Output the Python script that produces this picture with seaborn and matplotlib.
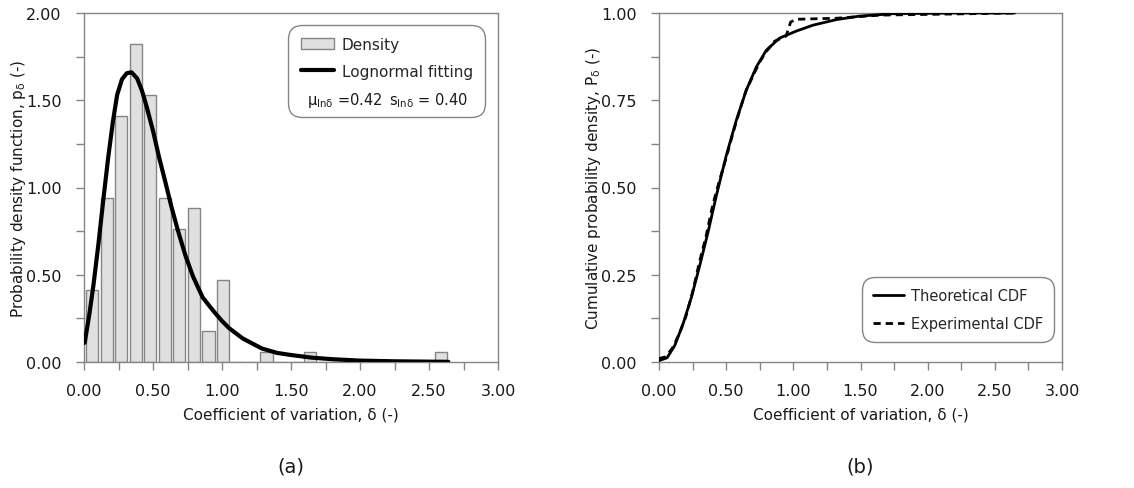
import numpy as np
import pandas as pd
import matplotlib
matplotlib.use("Agg")
import matplotlib.pyplot as plt
import seaborn as sns
from matplotlib.lines import Line2D
from matplotlib.patches import Patch
from matplotlib.ticker import MultipleLocator, FormatStrFormatter

# ---------------- data ----------------
bin_centers = [0.06, 0.16, 0.27, 0.38, 0.48, 0.59, 0.69, 0.80, 0.90, 1.01, 1.32, 1.64, 2.59]
bin_density = [0.41, 0.94, 1.41, 1.82, 1.53, 0.94, 0.76, 0.88, 0.18, 0.47, 0.06, 0.06, 0.06]

pdf_x = [0.005, 0.04, 0.07, 0.105, 0.14, 0.175, 0.21, 0.24, 0.275, 0.31, 0.345, 0.385,
         0.42, 0.455, 0.50, 0.545, 0.59, 0.635, 0.68, 0.735, 0.79, 0.86, 0.94, 1.0,
         1.05, 1.15, 1.29, 1.40, 1.50, 1.65, 1.80, 2.00, 2.25, 2.50, 2.64]
pdf_y = [0.11, 0.28, 0.45, 0.68, 0.93, 1.17, 1.38, 1.53, 1.62, 1.655, 1.66, 1.625,
         1.555, 1.46, 1.325, 1.17, 1.03, 0.885, 0.755, 0.61, 0.49, 0.37, 0.29, 0.235,
         0.195, 0.135, 0.077, 0.052, 0.04, 0.025, 0.016, 0.008, 0.004, 0.002, 0.001]

cdf_theo_x = [0.0, 0.06, 0.117, 0.179, 0.241, 0.303, 0.365, 0.427, 0.501, 0.575, 0.649,
              0.724, 0.798, 0.897, 1.021, 1.145, 1.319, 1.492, 1.74, 2.2, 2.646]
cdf_theo_y = [0.004, 0.012, 0.047, 0.109, 0.185, 0.276, 0.372, 0.477, 0.592, 0.692, 0.778,
              0.845, 0.893, 0.928, 0.948, 0.965, 0.981, 0.991, 0.998, 1.0, 1.0]

cdf_exp_x = [0.0, 0.05, 0.10, 0.15, 0.20, 0.25, 0.30, 0.35, 0.40, 0.45, 0.50, 0.55, 0.60,
             0.65, 0.70, 0.75, 0.80, 0.86, 0.946, 0.98, 1.02, 1.32, 1.65, 2.0, 2.64]
cdf_exp_y = [0.01, 0.015, 0.04, 0.08, 0.13, 0.20, 0.285, 0.36, 0.45, 0.52, 0.585, 0.655, 0.72,
             0.78, 0.82, 0.86, 0.89, 0.919, 0.934, 0.974, 0.982, 0.985, 0.994, 0.996, 1.0]

x_ticks = [0.0, 0.5, 1.0, 1.5, 2.0, 2.5, 3.0]

# ---------------- style ----------------
sns.set_theme(style="white")
plt.rcParams["font.family"] = ["DejaVu Sans"]
GRAY = "#858585"
BAR_FACE = "#e0e0e0"
TXT = "#1a1a1a"

fig = plt.figure(figsize=(11.34, 4.89), dpi=100)
ax1 = fig.add_axes([84 / 1134, 1 - 363 / 489, 414 / 1134, 349 / 489])
ax2 = fig.add_axes([659 / 1134, 1 - 363 / 489, 403 / 1134, 349 / 489])

# ---------------- (a) histogram + lognormal fit ----------------
hist_df = pd.DataFrame({"delta": bin_centers, "density": bin_density})
sns.histplot(data=hist_df, x="delta", weights="density", bins=25, binrange=(0.006, 2.64),
             stat="count", shrink=0.84, color=BAR_FACE, edgecolor=GRAY, linewidth=1.0,
             alpha=1, ax=ax1, zorder=2)
sns.lineplot(x=pdf_x, y=pdf_y, sort=False, estimator=None, color="black", lw=3.0,
             ax=ax1, zorder=3)

# ---------------- (b) CDFs ----------------
sns.lineplot(x=cdf_exp_x, y=cdf_exp_y, sort=False, estimator=None, color="black",
             lw=2.0, linestyle=(0, (2.6, 1.8)), ax=ax2, zorder=3)
sns.lineplot(x=cdf_theo_x, y=cdf_theo_y, sort=False, estimator=None, color="black",
             lw=2.0, ax=ax2, zorder=4)

for ax, ymax, ymaj, ymin in [(ax1, 2.0, 0.5, 0.25), (ax2, 1.0, 0.25, 0.125)]:
    ax.set_xlim(0, 3.0)
    ax.set_ylim(0, ymax)
    ax.set_xticks(x_ticks)
    ax.xaxis.set_minor_locator(MultipleLocator(0.25))
    ax.yaxis.set_major_locator(MultipleLocator(ymaj))
    ax.yaxis.set_minor_locator(MultipleLocator(ymin))
    ax.xaxis.set_major_formatter(FormatStrFormatter("%.2f"))
    ax.yaxis.set_major_formatter(FormatStrFormatter("%.2f"))
    ax.tick_params(which="both", direction="out", length=6, width=1, color=GRAY,
                   labelsize=11.5, labelcolor=TXT, left=True, bottom=True)
    ax.tick_params(axis="x", which="major", pad=9)
    ax.tick_params(axis="y", which="major", pad=10)
    for sp in ax.spines.values():
        sp.set_color(GRAY)
        sp.set_linewidth(1.0)
        sp.set_visible(True)
    ax.set_xlabel("Coefficient of variation, δ (-)", fontsize=11, color=TXT, labelpad=6)
    ax.grid(False)

ax1.set_ylabel(r"Probability density function, p$_{\mathregular{δ}}$ (-)", fontsize=11,
               color=TXT)
ax2.set_ylabel(r"Cumulative probability density, P$_{\mathregular{δ}}$ (-)", fontsize=11,
               color=TXT)
ax1.yaxis.set_label_coords(-0.135, 0.5)
ax2.yaxis.set_label_coords(-0.140, 0.5)

# ---------------- legends ----------------
h1 = [Patch(facecolor=BAR_FACE, edgecolor=GRAY, label="Density"),
      Line2D([], [], color="black", lw=3.0, label="Lognormal fitting"),
      Line2D([], [], color="none", label=" ")]
leg1 = ax1.legend(handles=h1, loc="upper right", bbox_to_anchor=(0.969, 0.966),
                  fontsize=11, frameon=True, fancybox=True, framealpha=1,
                  edgecolor=GRAY, handlelength=2.2, handleheight=0.75,
                  labelspacing=0.75, borderpad=0.8, handletextpad=0.5,
                  borderaxespad=0)
leg1.get_frame().set_boxstyle("round,pad=0,rounding_size=0.9")
leg1.get_frame().set_linewidth(1.0)

h2 = [Line2D([], [], color="black", lw=2.0, label="Theoretical CDF"),
      Line2D([], [], color="black", lw=2.0, linestyle=(0, (2.6, 1.8)), label="Experimental CDF")]
leg2 = ax2.legend(handles=h2, loc="lower right", bbox_to_anchor=(0.98, 0.057),
                  fontsize=10.5, frameon=True, fancybox=True, framealpha=1,
                  edgecolor=GRAY, handlelength=2.1, labelspacing=0.9,
                  borderpad=0.75, handletextpad=0.5, borderaxespad=0)
leg2.get_frame().set_boxstyle("round,pad=0,rounding_size=0.9")
leg2.get_frame().set_linewidth(1.0)

# parameter line inside legend (a)
fig.canvas.draw()
r = fig.canvas.get_renderer()
t3 = leg1.get_texts()[2].get_window_extent(r)
hb = leg1.legend_handles[0].get_window_extent(r)
fb = leg1.get_frame().get_window_extent(r)
inv = fig.transFigure.inverted()
ymid = (t3.y0 + t3.y1) / 2 - 2
xa, ya = inv.transform((hb.x0 + 6, ymid))
xb, _ = inv.transform((fb.x1 - 17, ymid))
fig.text(xa, ya, r"μ$_{\mathregular{lnδ}}$ =0.42", fontsize=10.5, color=TXT,
         ha="left", va="center")
fig.text(xb, ya, r"s$_{\mathregular{lnδ}}$ = 0.40", fontsize=10.5, color=TXT,
         ha="right", va="center")

# panel captions
fig.text((84 + 414 / 2) / 1134, 1 - 467 / 489, "(a)", fontsize=14, ha="center", va="center", color=TXT)
fig.text((659 + 403 / 2) / 1134, 1 - 467 / 489, "(b)", fontsize=14, ha="center", va="center", color=TXT)

fig.savefig("out.png", dpi=100, facecolor="white")
